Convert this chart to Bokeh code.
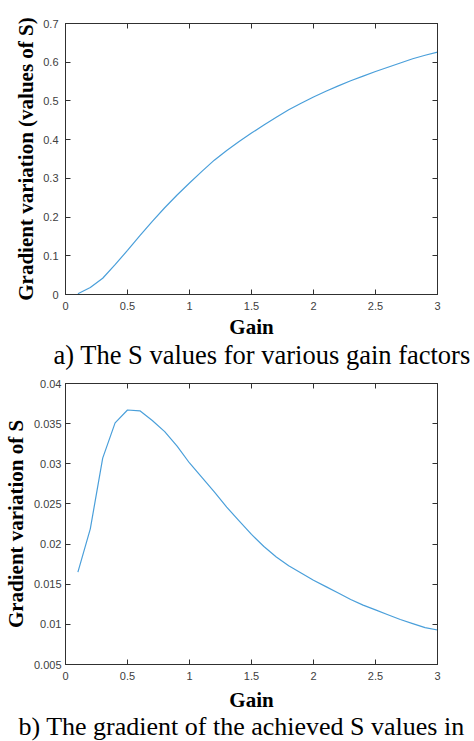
from bokeh.plotting import figure
from bokeh.models import Range1d, FixedTicker, LinearAxis, Title
from bokeh.layouts import column
from bokeh.embed import file_html
from bokeh.resources import INLINE

# ---- data ----
gain = [0.1, 0.2, 0.3, 0.4, 0.5, 0.6, 0.7, 0.8, 0.9, 1.0,
        1.1, 1.2, 1.3, 1.4, 1.5, 1.6, 1.7, 1.8, 1.9, 2.0,
        2.1, 2.2, 2.3, 2.4, 2.5, 2.6, 2.7, 2.8, 2.9, 3.0]
s_values = [0.002, 0.018, 0.042, 0.077, 0.114, 0.152, 0.189, 0.224, 0.257, 0.288,
            0.318, 0.347, 0.372, 0.395, 0.417, 0.438, 0.458, 0.477, 0.494, 0.510,
            0.525, 0.539, 0.552, 0.564, 0.576, 0.587, 0.598, 0.609, 0.618, 0.626]
s_gradient = [0.0165, 0.0219, 0.0307, 0.0351, 0.0367, 0.0366, 0.0354, 0.0340, 0.0322, 0.0301,
              0.0283, 0.0265, 0.0246, 0.0229, 0.0212, 0.0197, 0.0184, 0.0173, 0.0164, 0.0155,
              0.0147, 0.0139, 0.0131, 0.0124, 0.0118, 0.0112, 0.0106, 0.0101, 0.0096, 0.0093]

x_ticks = [0, 0.5, 1, 1.5, 2, 2.5, 3]
x_tick_labels = ["0", "0.5", "1", "1.5", "2", "2.5", "3"]
ya_ticks = [0, 0.1, 0.2, 0.3, 0.4, 0.5, 0.6, 0.7]
ya_tick_labels = ["0", "0.1", "0.2", "0.3", "0.4", "0.5", "0.6", "0.7"]
yb_ticks = [0.005, 0.01, 0.015, 0.02, 0.025, 0.03, 0.035, 0.04]
yb_tick_labels = ["0.005", "0.01", "0.015", "0.02", "0.025", "0.03", "0.035", "0.04"]

x_label = "Gain"
ya_label = "Gradient variation (values of S)"
yb_label = "Gradient variation of S"
caption_a = "a) The S values for various gain factors"
caption_b = "b) The gradient of the achieved S values in"

LINE_COLOR = "#4a9fda"
AXIS_COLOR = "#303030"
TICK_TEXT = "#404040"
SERIF = "Liberation Serif"
SANS = "Liberation Sans"


def style_axis(ax, ticks, labels, show_labels=True):
    ax.ticker = FixedTicker(ticks=ticks)
    ax.major_label_overrides = {t: l for t, l in zip(ticks, labels)}
    ax.minor_tick_line_color = None
    ax.major_tick_in = 5
    ax.major_tick_out = 0
    ax.axis_line_color = AXIS_COLOR
    ax.major_tick_line_color = AXIS_COLOR
    ax.major_label_text_font = SANS
    ax.major_label_text_font_size = "11px"
    if show_labels:
        ax.major_label_text_color = TICK_TEXT
    else:
        ax.major_label_text_color = None
        ax.major_label_standoff = 0


def make_fig(fw, fh, y, yr, yticks, ylabels, ylabel, caption, left, top, bottom,
             tick_std, lab_std, cap_std, cap_offset, cap_size, ylab_std, ytick_std):
    p = figure(frame_width=fw, frame_height=fh, output_backend="svg", toolbar_location=None,
               x_range=Range1d(0, 3), y_range=Range1d(*yr),
               min_border_top=top, min_border_bottom=bottom,
               min_border_left=left, min_border_right=37)
    p.grid.visible = False
    p.outline_line_color = AXIS_COLOR
    p.background_fill_color = "white"
    p.border_fill_color = "white"
    p.line(gain, y, line_color=LINE_COLOR, line_width=1.2)

    xa = p.xaxis[0]
    style_axis(xa, x_ticks, x_tick_labels)
    xa.major_label_standoff = tick_std
    xa.axis_label = x_label
    xa.axis_label_text_font = SERIF
    xa.axis_label_text_font_style = "bold"
    xa.axis_label_text_font_size = "21px"
    xa.axis_label_text_color = "black"
    xa.axis_label_standoff = lab_std

    ya = p.yaxis[0]
    style_axis(ya, yticks, ylabels)
    ya.major_label_standoff = ytick_std
    ya.axis_label = ylabel
    ya.axis_label_text_font = SERIF
    ya.axis_label_text_font_style = "bold"
    ya.axis_label_text_font_size = "21px"
    ya.axis_label_text_color = "black"
    ya.axis_label_standoff = ylab_std

    top_ax = LinearAxis()
    style_axis(top_ax, x_ticks, x_tick_labels, show_labels=False)
    p.add_layout(top_ax, "above")
    right_ax = LinearAxis()
    style_axis(right_ax, yticks, ylabels, show_labels=False)
    p.add_layout(right_ax, "right")

    cap = Title(text=caption, text_font=SERIF, text_font_size=cap_size,
                text_font_style="normal", text_color="black",
                align="left", offset=cap_offset, standoff=cap_std)
    p.add_layout(cap, "below")
    return p


p1 = make_fig(372, 271, s_values, (0, 0.7), ya_ticks, ya_tick_labels, ya_label, caption_a,
              65, 23, 78, 7, 2, -8, -12, "26.5px", 2, 7)
p2 = make_fig(372, 281, s_gradient, (0.005, 0.04), yb_ticks, yb_tick_labels, yb_label, caption_b,
              65, 11, 77, 7, 5, -10, -47, "26px", 3, 4)

layout = column(p1, p2, spacing=0)
open("out.html", "w").write(file_html(layout, INLINE))
